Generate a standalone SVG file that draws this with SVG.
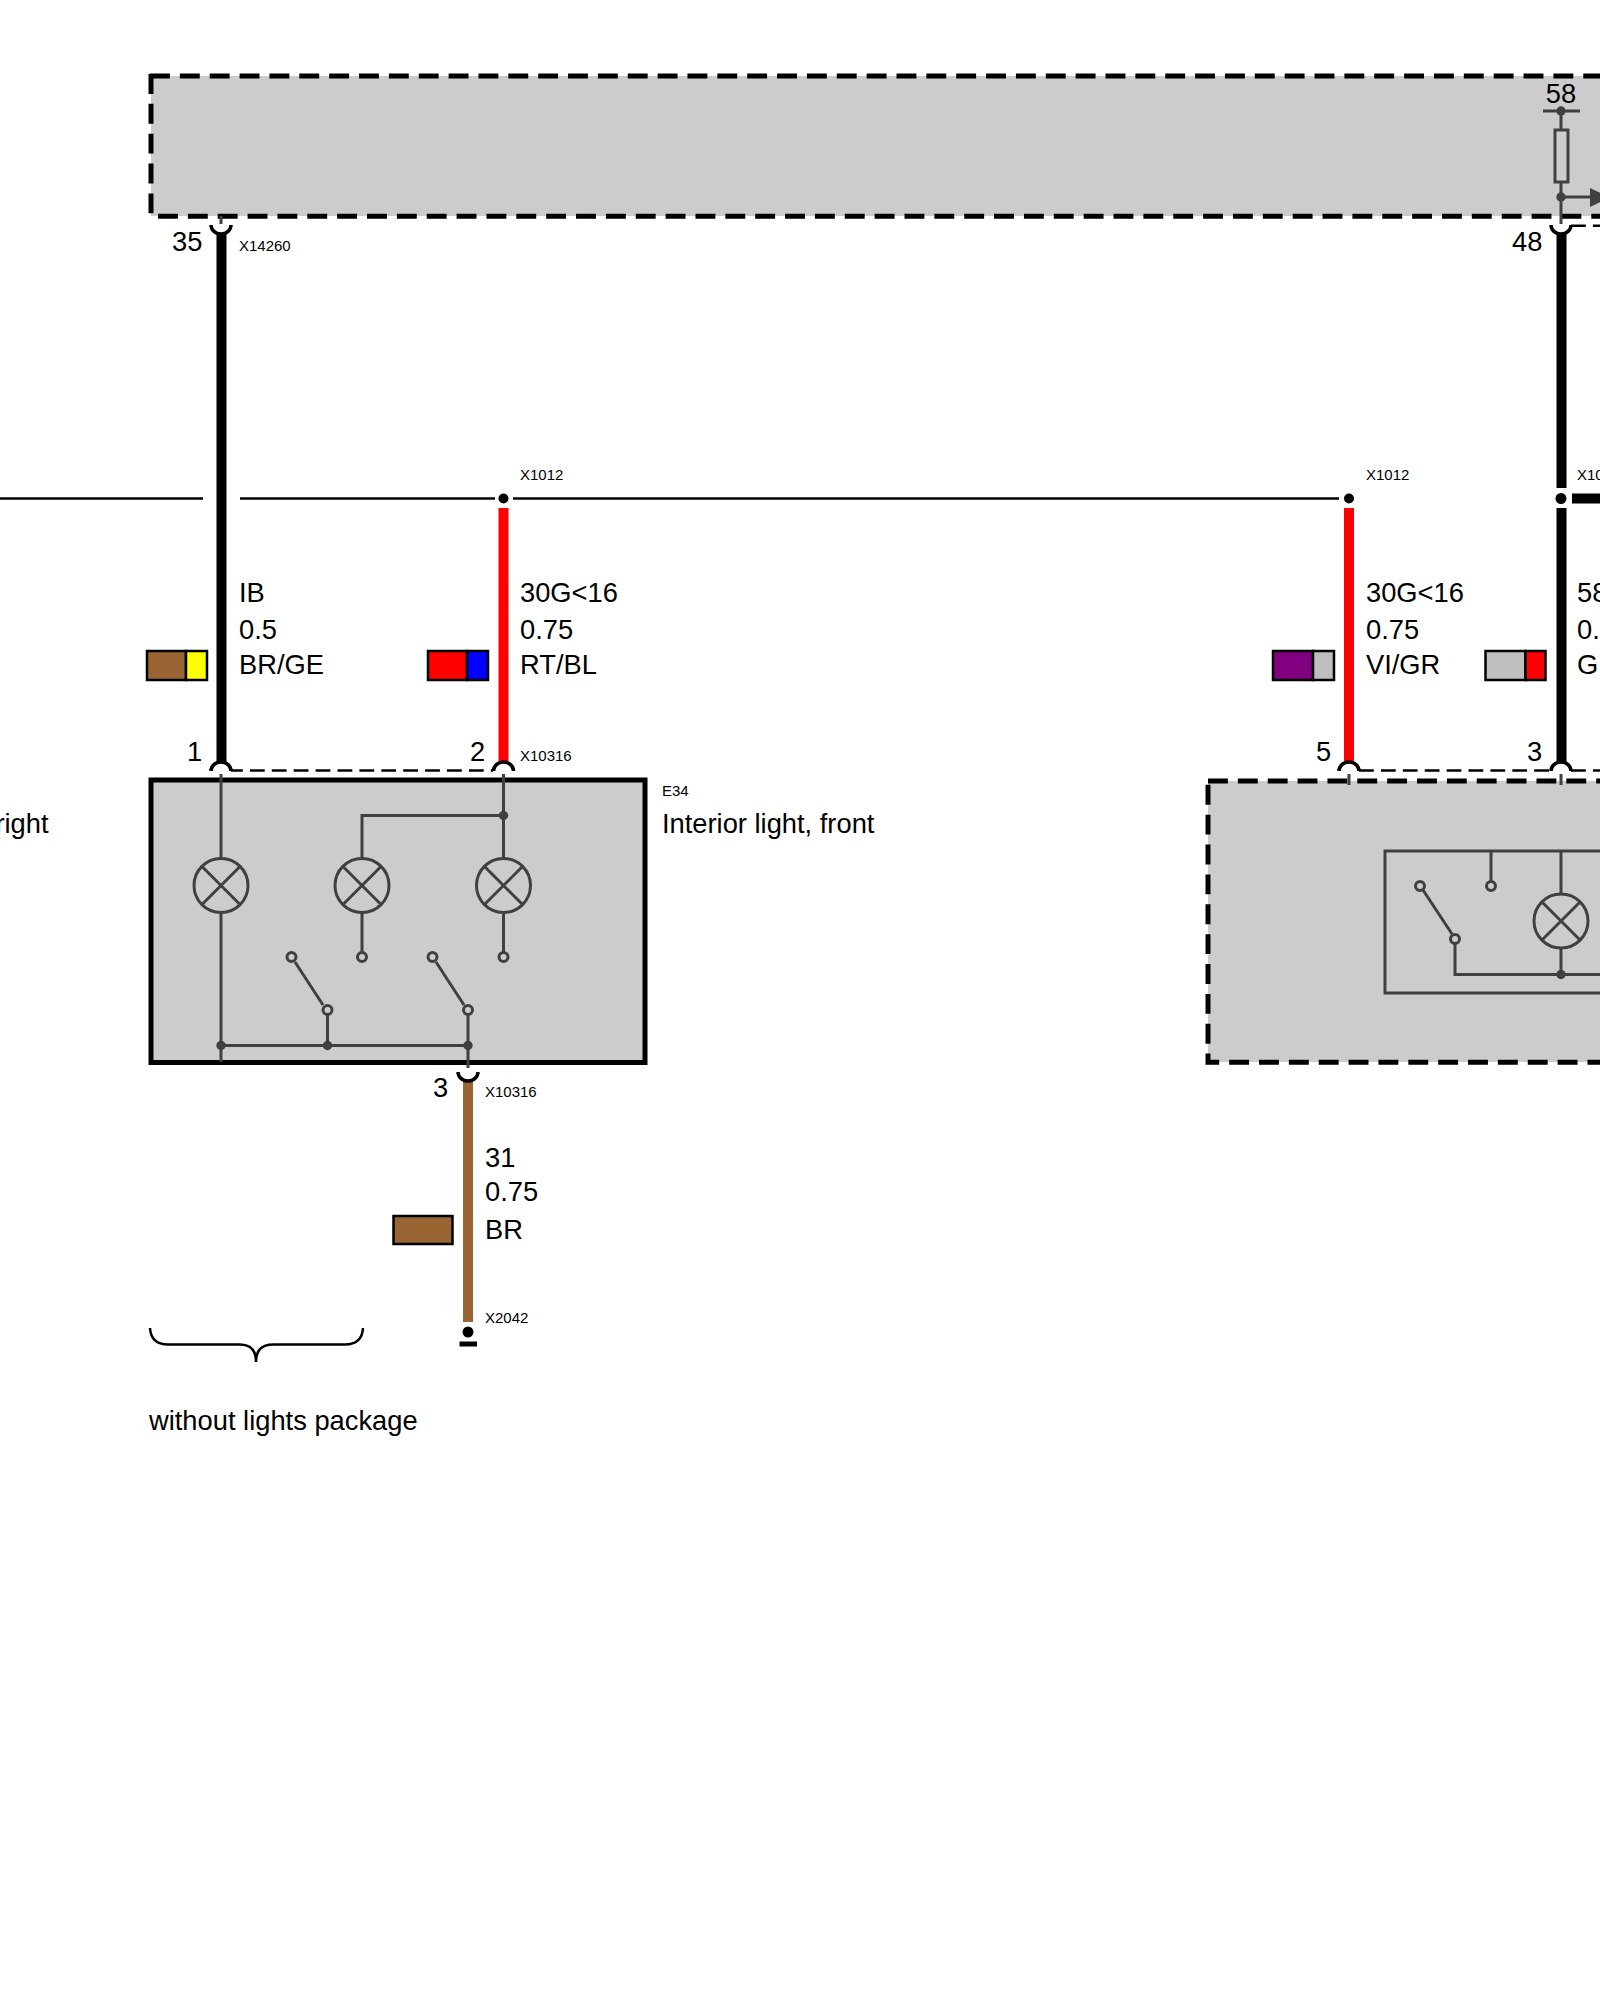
<svg xmlns="http://www.w3.org/2000/svg" width="1600" height="2000" viewBox="0 0 1600 2000">
<style>
text{font-family:"Liberation Sans",Arial,sans-serif;fill:#000}
.l{font-size:27.3px}
.s{font-size:15px}
.box{fill:#ccc;stroke:#000;stroke-width:5}
.fill{fill:#ccc}
.dash{fill:none;stroke:#000;stroke-width:5;stroke-dasharray:19.9 9.96}
.i{fill:none;stroke:#404040;stroke-width:3}
.t{fill:#ccc;stroke:#404040;stroke-width:3}
.d{fill:#404040}
.p{fill:none;stroke:#000;stroke-width:3.5}
.w{fill:none;stroke-width:10}
.th{fill:none;stroke:#000;stroke-width:2.5}
.sw{stroke:#000;stroke-width:2.5}
.pl{fill:none;stroke:#000;stroke-width:2.5;stroke-dasharray:14.8 7.1}
</style>
<rect width="1600" height="2000" fill="#fff"/>
<g id="control-unit">
<rect class="fill" x="151" y="76" width="1480" height="140"/>
<path class="dash" d="M150 76H1640"/>
<path class="dash" d="M151 74V216.300H1640"/>
<path class="i" d="M1543 111H1580M1561 111V130M1561 182V224M1561 197H1592"/>
<rect class="i" x="1555" y="130" width="13" height="52"/>
<circle class="d" cx="1561" cy="111" r="4.700"/>
<circle class="d" cx="1561" cy="197" r="4.700"/>
<polygon class="d" points="1590,188 1610,197.500 1590,207"/>
<text class="l" x="1561" y="102.500" text-anchor="middle">58</text>
</g>
<g id="E34-interior-light">
<rect class="box" x="151" y="780" width="494" height="282.500"/>
<path class="i" d="M221 774V858.500M221 912.500V1062M503.500 774V858.500M503.500 912.500V952M362 858.500V815.500H503.500M362 912.500V952M295 962L323 1005M436 962L464 1005M327.500 1015V1045.500M468 1015V1068M221 1045.500H468"/>
<g class="i">
<circle cx="221" cy="885.500" r="27"/><path d="M202 866.500L240 904.500M240 866.500L202 904.500"/>
<circle cx="362" cy="885.500" r="27"/><path d="M343 866.500L381 904.500M381 866.500L343 904.500"/>
<circle cx="503.500" cy="885.500" r="27"/><path d="M484.500 866.500L522.500 904.500M522.500 866.500L484.500 904.500"/>
</g>
<circle class="t" cx="362" cy="957" r="4.500"/>
<circle class="t" cx="503.500" cy="957" r="4.500"/>
<circle class="t" cx="291.500" cy="957" r="4.500"/>
<circle class="t" cx="432.500" cy="957" r="4.500"/>
<circle class="t" cx="327.500" cy="1010" r="4.500"/>
<circle class="t" cx="468" cy="1010" r="4.500"/>
<circle class="d" cx="503.500" cy="815.500" r="4.700"/>
<circle class="d" cx="221" cy="1045.500" r="4.700"/>
<circle class="d" cx="327.500" cy="1045.500" r="4.700"/>
<circle class="d" cx="468" cy="1045.500" r="4.700"/>
<text class="s" x="662" y="796">E34</text>
<text class="l" x="662" y="833">Interior light, front</text>
</g>
<g id="right-unit">
<rect class="fill" x="1208" y="781" width="480" height="281"/>
<path class="dash" d="M1208 781H1640"/>
<path class="dash" style="stroke-dashoffset:26" d="M1208 781V1062.300H1640"/>
<path class="i" d="M1349 774V785M1561 774V785"/>
<rect class="i" x="1385" y="851" width="400" height="142"/>
<path class="i" d="M1491 851V881M1561 851V894M1561 948V974.500M1455 944V974.500H1600M1423 890L1452 934"/>
<circle class="i" cx="1561" cy="921" r="27"/><path class="i" d="M1542 902L1580 940M1580 902L1542 940"/>
<circle class="t" cx="1420" cy="886" r="4.500"/>
<circle class="t" cx="1491" cy="886" r="4.500"/>
<circle class="t" cx="1455" cy="939" r="4.500"/>
<circle class="d" cx="1561" cy="974.500" r="4.700"/>
</g>
<g id="right-label"><text class="l" x="48.500" y="833" text-anchor="end">right</text></g>
<g id="connectors">
<path class="th" d="M0 498.500H203M240 498.500H495M513 498.500H1339"/>
<path class="w" stroke="#000" d="M221.500 233V762M1561.500 233V488M1561.500 508V762M1572 498.500H1600"/>
<path class="w" stroke="#f00" d="M503.500 508V762M1349 508V762"/>
<path class="w" stroke="#963" d="M468 1081V1322"/>
<path class="pl" style="stroke-dashoffset:3" d="M231 770.500H493"/>
<path class="pl" d="M1359 770.500H1551M1571 770.500H1600M1571 225.800H1600"/>
<path class="p" d="M211 225A10 9 0 0 0 231 225M1551 225A10 9 0 0 0 1571 225M458 1072A10 9 0 0 0 478 1072M211 771A10 9 0 0 1 231 771M493.500 771A10 9 0 0 1 513.500 771M1339 771A10 9 0 0 1 1359 771M1551 771A10 9 0 0 1 1571 771"/>
<path class="i" d="M221 216V224"/>
</g>
<g id="splices">
<circle cx="503.500" cy="498.500" r="5"/>
<circle cx="1349" cy="498.500" r="5"/>
<circle cx="1561" cy="498.500" r="5.500"/>
<circle cx="468" cy="1332" r="5.500"/>
<rect x="459.500" y="1341.500" width="17.500" height="5"/>
</g>
<g id="wire-35">
<text class="l" x="172" y="251">35</text>
<text class="s" x="239" y="251">X14260</text>
<text class="l" x="239" y="602">IB</text>
<text class="l" x="239" y="639">0.5</text>
<text class="l" x="239" y="674">BR/GE</text>
<rect class="sw" x="147" y="651" width="39" height="29" fill="#963"/>
<rect class="sw" x="186" y="651" width="21" height="29" fill="#ff0"/>
<text class="l" x="187" y="761">1</text>
</g>
<g id="wire-30G-2">
<text class="s" x="520" y="480">X1012</text>
<text class="l" x="520" y="602">30G&lt;16</text>
<text class="l" x="520" y="639">0.75</text>
<text class="l" x="520" y="674">RT/BL</text>
<rect class="sw" x="428" y="651" width="39" height="29" fill="#f00"/>
<rect class="sw" x="467" y="651" width="21" height="29" fill="#00f"/>
<text class="l" x="470" y="761">2</text>
<text class="s" x="520" y="761">X10316</text>
</g>
<g id="wire-30G-5">
<text class="s" x="1366" y="480">X1012</text>
<text class="l" x="1366" y="602">30G&lt;16</text>
<text class="l" x="1366" y="639">0.75</text>
<text class="l" x="1366" y="674">VI/GR</text>
<rect class="sw" x="1273" y="651" width="40" height="29" fill="#800080"/>
<rect class="sw" x="1313" y="651" width="21" height="29" fill="#bebebe"/>
<text class="l" x="1316" y="761">5</text>
</g>
<g id="wire-48">
<text class="l" x="1512" y="251">48</text>
<text class="s" x="1577" y="480">X10</text>
<text class="l" x="1577" y="602">58</text>
<text class="l" x="1577" y="639">0.</text>
<text class="l" x="1577" y="674">G</text>
<rect class="sw" x="1485.500" y="651" width="40" height="29" fill="#bebebe"/>
<rect class="sw" x="1525.500" y="651" width="20" height="29" fill="#f00"/>
<text class="l" x="1527" y="761">3</text>
</g>
<g id="wire-31">
<text class="l" x="433" y="1097">3</text>
<text class="s" x="485" y="1097">X10316</text>
<text class="l" x="485" y="1167">31</text>
<text class="l" x="485" y="1201">0.75</text>
<text class="l" x="485" y="1239">BR</text>
<rect class="sw" x="393.500" y="1216" width="59" height="28" fill="#963"/>
<text class="s" x="485" y="1323">X2042</text>
</g>
<g id="brace">
<path class="th" fill="none" d="M150 1328Q151 1344.500 168 1344.500H240Q256 1344.500 256 1362Q256 1344.500 273 1344.500H345Q362 1344.500 363 1328"/>
<text class="l" x="149" y="1430">without lights package</text>
</g>
</svg>
